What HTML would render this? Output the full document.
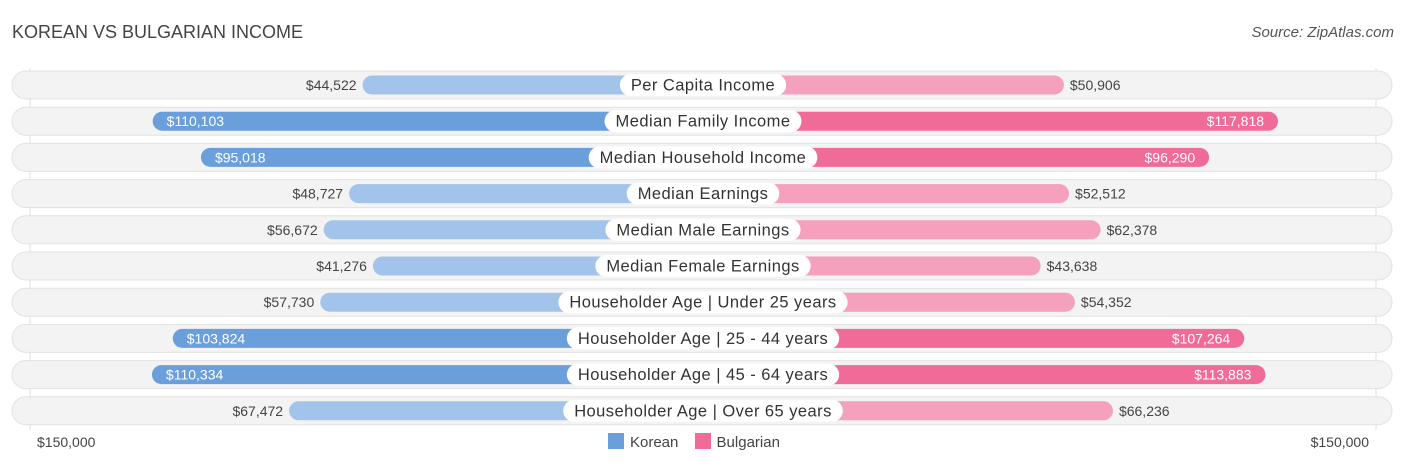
<!DOCTYPE html>
<html><head><meta charset="utf-8"><style>
body{margin:0;background:#fff;font-family:"Liberation Sans",sans-serif;}
#c{position:relative;width:1406px;height:467px;overflow:hidden}
.t{position:absolute;white-space:nowrap}
</style></head><body>
<div id="c">
<div class="t" style="left:12px;top:22px;font-size:18px;color:#444">KOREAN VS BULGARIAN INCOME</div>
<div class="t" style="right:12px;top:24px;font-size:15px;color:#555;font-style:italic">Source: ZipAtlas.com</div>
<svg id="s" width="1406" height="467" style="position:absolute;left:0;top:0"></svg>
<div class="t" style="left:37px;top:434px;font-size:14px;color:#444">$150,000</div>
<div class="t" style="right:37px;top:434px;font-size:14px;color:#444">$150,000</div>
<div class="t" style="left:608px;top:433px;font-size:15px;color:#444">
<span><span style="display:inline-block;width:16px;height:16px;background:#6a9fdc;vertical-align:-2px;margin-right:6px"></span>Korean</span>
<span style="margin-left:12px"><span style="display:inline-block;width:16px;height:16px;background:#f06b97;vertical-align:-2px;margin-right:6px"></span>Bulgarian</span>
</div>
</div>
<script>
const categories=["Per Capita Income","Median Family Income","Median Household Income","Median Earnings","Median Male Earnings","Median Female Earnings","Householder Age | Under 25 years","Householder Age | 25 - 44 years","Householder Age | 45 - 64 years","Householder Age | Over 65 years"];
const korean=[44522,110103,95018,48727,56672,41276,57730,103824,110334,67472];
const bulgarian=[50906,117818,96290,52512,62378,43638,54352,107264,113883,66236];
const svg=document.getElementById('s');const NS='http://www.w3.org/2000/svg';
const CX=703,OFF=198,K=0.0032;
function len(v){return OFF+v*K;}
function rowY(i){return 85+i*36.2;}
function el(t,a,p){const e=document.createElementNS(NS,t);for(const k in a)e.setAttribute(k,a[k]);(p||svg).appendChild(e);return e;}
const fmt=v=>'$'+v.toLocaleString('en-US');
const g0=el('line',{x1:30,y1:68,x2:30,y2:430,stroke:'#ddd'});


const g1=el('line',{x1:1376,y1:68,x2:1376,y2:430,stroke:'#ddd'});


categories.forEach((c,i)=>{
 const y=rowY(i);
 const bg=el('rect',{x:12,y:y-14,width:1380,height:28,rx:14,fill:'#f3f3f3',stroke:'#e2e2e2'});
 
 
 const kv=korean[i],bv=bulgarian[i];
 const ks=kv>90000,bs=bv>90000;
 const kl=len(kv),bl=len(bv);
 const kb=el('rect',{x:CX-kl,y:y-9.5,width:kl,height:19,rx:9.5,fill:ks?'#6a9fdc':'#a3c4ea'});
 
 
 const bb=el('rect',{x:CX,y:y-9.5,width:bl,height:19,rx:9.5,fill:bs?'#f06b97':'#f5a0bd'});
 
 
 const kt=el('text',{x:ks?CX-kl+14:CX-kl-6,y:y+5,'font-size':14,fill:ks?'#fff':'#444','text-anchor':ks?'start':'end'});
 kt.textContent=fmt(kv);
 
 
 const bt=el('text',{x:bs?CX+bl-14:CX+bl+6,y:y+5,'font-size':14,fill:bs?'#fff':'#444','text-anchor':bs?'end':'start'});
 bt.textContent=fmt(bv);
 
 
 const lt=el('text',{x:CX,y:y+5.5,'font-size':16.5,'letter-spacing':0.45,fill:'#333','text-anchor':'middle'});
 lt.textContent=c;
 
 
 const w=lt.getComputedTextLength()+22;
 const lb=el('rect',{x:CX-w/2,y:y-11,width:w,height:22,rx:11,fill:'#fff'});
 
 
 svg.insertBefore(lb,lt);
});
</script>
</body></html>
